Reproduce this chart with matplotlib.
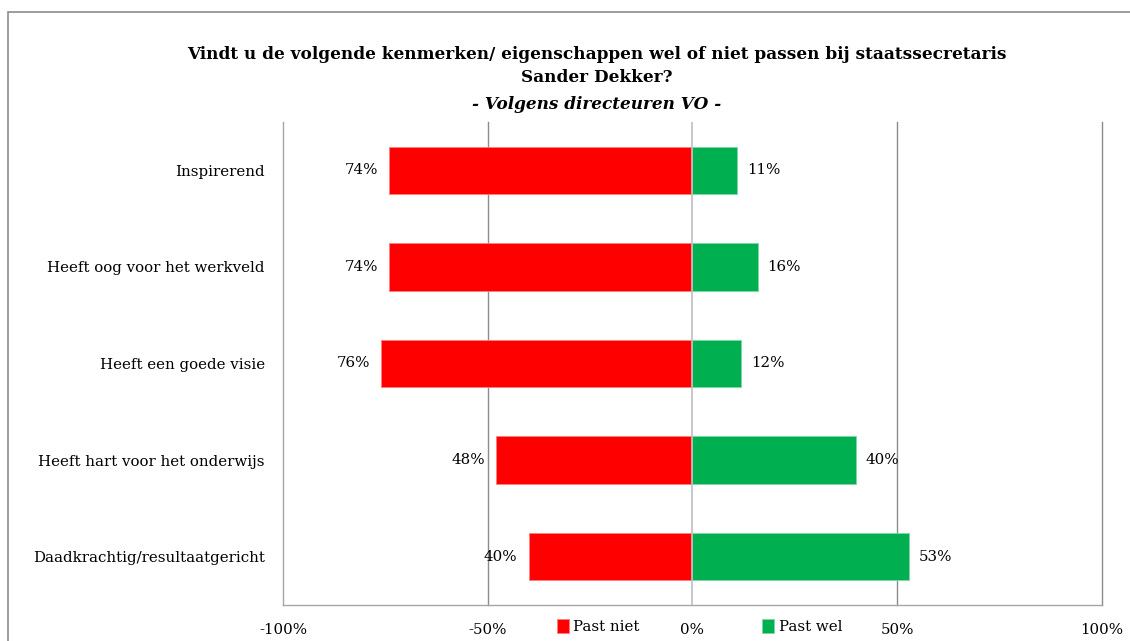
import matplotlib.pyplot as plt
from matplotlib.patches import Rectangle

# Data
categories = ['Inspirerend', 'Heeft oog voor het werkveld', 'Heeft een goede visie',
              'Heeft hart voor het onderwijs', 'Daadkrachtig/resultaatgericht']
past_niet = [74, 74, 76, 48, 40]
past_wel = [11, 16, 12, 40, 53]
tick_values = [-100, -50, 0, 50, 100]
tick_labels = ['-100%', '-50%', '0%', '50%', '100%']

plt.rcParams['font.family'] = ['DejaVu Serif']

fig = plt.figure(figsize=(11.3, 6.41), dpi=100)
ax = fig.add_axes([0.2504, 0.0562, 0.7246, 0.7535])

# Outer border of the chart
fig.patches.append(Rectangle((8 / 1130, -0.05), 1.2, 1 - 12 / 641 + 0.05, transform=fig.transFigure,
                             fill=False, edgecolor='#8c8c8c', linewidth=1.2, zorder=0))

y = list(range(len(categories)))
neg = [-v for v in past_niet]
red = '#ff0000'
green = '#00b050'
ax.barh(y, neg, height=0.49, color=red, edgecolor='#ff8080', linewidth=0.6, label='Past niet', zorder=3)
ax.barh(y, past_wel, height=0.49, color=green, edgecolor='#80d8a8', linewidth=0.6, label='Past wel', zorder=3)

fs = 10.8
for yi, v in zip(y, past_niet):
    ax.annotate(f'{v}%', xy=(-v, yi), xytext=(-8, 0), textcoords='offset points',
                ha='right', va='center', fontsize=fs)
for yi, v in zip(y, past_wel):
    ax.annotate(f'{v}%', xy=(v, yi), xytext=(7, 0), textcoords='offset points',
                ha='left', va='center', fontsize=fs)

ax.set_xlim(-100, 100)
ax.set_ylim(len(categories) - 0.5, -0.5)
ax.set_xticks(tick_values)
ax.set_xticklabels(tick_labels, fontsize=fs)
ax.set_yticks(y)
ax.set_yticklabels(categories, fontsize=fs)
ax.tick_params(axis='both', length=0)
ax.tick_params(axis='y', pad=13)
ax.tick_params(axis='x', pad=13)

for x in [-50, 50, 100]:
    ax.axvline(x, color='#8c8c8c', linewidth=1, zorder=1, clip_on=False)
ax.axvline(0, color='#bfbfbf', linewidth=1.2, zorder=4)

for s in ['top', 'right']:
    ax.spines[s].set_visible(False)
for s in ['left', 'bottom']:
    ax.spines[s].set_color('#a6a6a6')
    ax.spines[s].set_linewidth(1)

tfs = 12.2
fig.text(0.528, 0.915, 'Vindt u de volgende kenmerken/ eigenschappen wel of niet passen bij staatssecretaris',
         ha='center', va='center', fontsize=tfs, fontweight='bold')
fig.text(0.528, 0.879, 'Sander Dekker?', ha='center', va='center', fontsize=tfs, fontweight='bold')
fig.text(0.528, 0.837, '- Volgens directeuren VO -', ha='center', va='center', fontsize=tfs,
         fontweight='bold', style='italic')

fig.legend(loc='center', bbox_to_anchor=(0.619, 0.022), ncol=2, frameon=False, fontsize=fs,
           handlelength=0.8, handleheight=1.0, handletextpad=0.3, columnspacing=8.2)

fig.savefig('out.png', dpi=100)
